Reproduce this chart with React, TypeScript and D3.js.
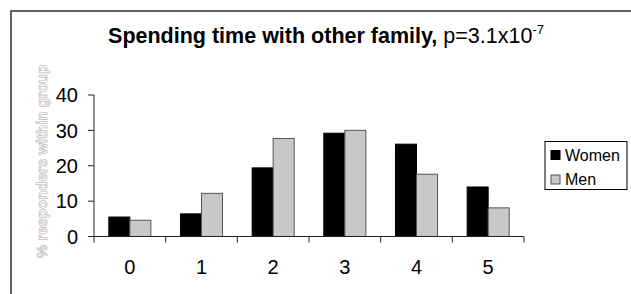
import React from "react";
import * as d3 from "d3";

const categories = ["0", "1", "2", "3", "4", "5"];
const seriesNames = ["Women", "Men"];
const women = [5.5, 6.4, 19.4, 29.2, 26.1, 14.0];
const men = [4.6, 12.2, 27.7, 30.0, 17.6, 8.1];
const yTicks = [0, 10, 20, 30, 40];

const W = 631;
const H = 294;
const font = "'Liberation Sans', Arial, sans-serif";

const colors: Record<string, string> = { Women: "#000000", Men: "#c8c8c8" };

export default function App() {
  const left = 94;
  const right = 524;
  const top = 95;
  const bottom = 236.5;

  const x = d3.scaleBand().domain(categories).range([left, right]).padding(0);
  const xs = d3
    .scaleBand()
    .domain(seriesNames)
    .range([0, x.bandwidth()])
    .paddingInner(0)
    .paddingOuter(0.705);
  const y = d3.scaleLinear().domain([0, 40]).range([bottom, top]);

  const values: Record<string, number[]> = { Women: women, Men: men };
  const boundaries = categories.map((c) => x(c) as number).concat([right]);

  return (
    <svg
      width={W}
      height={H}
      style={{ position: "absolute", left: 0, top: 0, background: "#fff" }}
      fontFamily={font}
    >
      {/* chart frame, cropped on the right and bottom */}
      <rect x={11} y={11} width={W + 20} height={H + 20} fill="#fff" stroke="#333" strokeWidth={1.5} />

      <text x={326} y={42.5} textAnchor="middle" fontSize={21.5} fill="#000">
        <tspan fontWeight="bold">Spending time with other family,</tspan>
        <tspan> p=3.1x10</tspan>
        <tspan fontSize={13} dy={-9}>-7</tspan>
      </text>

      <text
        transform={`translate(47,161.5) rotate(-90)`}
        textAnchor="middle"
        fontSize={15}
        fontWeight="bold"
        fill="#fff"
        stroke="#bdbdbd"
        strokeWidth={0.7}
      >
        % responders within group
      </text>

      {/* bars */}
      {seriesNames.map((s) =>
        categories.map((c, i) => (
          <rect
            key={s + c}
            x={(x(c) as number) + (xs(s) as number)}
            y={y(values[s][i])}
            width={xs.bandwidth()}
            height={bottom - y(values[s][i])}
            fill={colors[s]}
            stroke={s === "Men" ? "#555" : "#000"}
            strokeWidth={1}
          />
        ))
      )}

      {/* y axis */}
      <line x1={left} x2={left} y1={top} y2={bottom} stroke="#222" />
      {yTicks.map((t) => (
        <g key={t}>
          <line x1={left - 6} x2={left} y1={y(t)} y2={y(t)} stroke="#222" />
          <text x={78} y={y(t)} dy="0.36em" textAnchor="end" fontSize={20} fill="#000">
            {t}
          </text>
        </g>
      ))}

      {/* x axis */}
      <line x1={left} x2={right} y1={bottom} y2={bottom} stroke="#222" />
      {boundaries.map((b, i) => (
        <line key={i} x1={b} x2={b} y1={bottom} y2={bottom + 6} stroke="#222" />
      ))}
      {categories.map((c) => (
        <text
          key={c}
          x={(x(c) as number) + x.bandwidth() / 2}
          y={273.5}
          textAnchor="middle"
          fontSize={20}
          fill="#000"
        >
          {c}
        </text>
      ))}

      {/* legend */}
      <rect x={545} y={141.5} width={82} height={48} fill="#fff" stroke="#000" strokeWidth={1} />
      {seriesNames.map((s, i) => (
        <g key={s} transform={`translate(551,${150.5 + i * 24.5})`}>
          <rect width={9} height={9} fill={colors[s]} stroke={s === "Men" ? "#555" : "#000"} />
          <text x={14} y={4.5} dy="0.36em" fontSize={16} fill="#000">
            {s}
          </text>
        </g>
      ))}
    </svg>
  );
}
